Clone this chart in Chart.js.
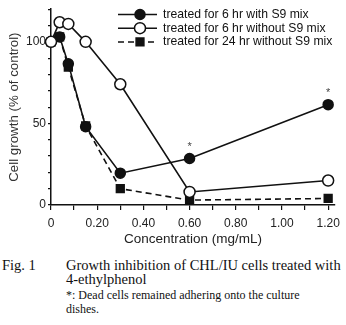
<!DOCTYPE html>
<html>
<head>
<meta charset="utf-8">
<script src="https://cdn.jsdelivr.net/npm/chart.js@4/dist/chart.umd.min.js"></script>
<style>
  html, body { margin: 0; padding: 0; background: #fff; }
  #wrap { position: relative; width: 346px; height: 325px; overflow: hidden; }
  #plot { position: absolute; left: 0; top: 0; }
  .cap { position: absolute; font-family: "Liberation Serif", "DejaVu Serif", serif; color: #111; white-space: nowrap; }
  .c1 { font-size: 14.5px; }
  .c2 { font-size: 12px; }
</style>
</head>
<body>
<div id="wrap">
  <canvas id="plot" width="346" height="252"></canvas>
  <div class="cap c1" style="left:2px; top:257px;">Fig. 1</div>
  <div class="cap c1" style="left:66px; top:257px;">Growth inhibition of CHL/IU cells treated with</div>
  <div class="cap c1" style="left:66px; top:271px;">4-ethylphenol</div>
  <div class="cap c2" style="left:66px; top:288px;">*: Dead cells remained adhering onto the culture</div>
  <div class="cap c2" style="left:66px; top:302px;">dishes.</div>
</div>
<script>
// concentrations (mg/mL) and cell growth (% of control)
var conc      = [0, 0.0375, 0.075, 0.15, 0.3, 0.6, 1.2];
var withS9    = [100, 103, 86.5, 48, 19.5, 28.5, 61.5];
var withoutS9 = [100, 112, 111, 100, 74, 8, 15];
var long24    = [100, 103, 84.5, 48.5, 10, 3, 4];

var seriesLabels = [
  'treated for 6 hr with S9 mix',
  'treated for 6 hr without S9 mix',
  'treated for 24 hr without S9 mix'
];
var starIdx = [5, 6];        // points marked with * (with S9 series)
var xLabelAt = [0, 0.2, 0.4, 0.6, 0.8, 1.0, 1.2];
var yLabelAt = [0, 50, 100];

var SANS = '"Liberation Sans", Arial, sans-serif';
var INK = '#111';

function pts(ys) {
  return ys.map(function (y, i) { return { x: conc[i], y: y }; });
}

// legend drawn as line + marker samples, top right of the plot
var sampleLegend = {
  id: 'sampleLegend',
  afterDatasetsDraw: function (chart) {
    var ctx = chart.ctx;
    ctx.save();
    chart.data.datasets.forEach(function (ds, i) {
      var y = 14.5 + i * 13.7;
      ctx.strokeStyle = INK;
      ctx.lineWidth = 1.5;
      ctx.setLineDash(ds.borderDash || []);
      ctx.beginPath();
      ctx.moveTo(118, y);
      ctx.lineTo(157, y);
      ctx.stroke();
      ctx.setLineDash([]);
      ctx.fillStyle = ds.pointBackgroundColor;
      ctx.strokeStyle = INK;
      ctx.lineWidth = ds.pointBorderWidth;
      Chart.helpers.drawPoint(ctx, {
        pointStyle: ds.pointStyle, radius: ds.pointRadius,
        borderWidth: ds.pointBorderWidth, rotation: 0
      }, 140, y);
      ctx.fillStyle = INK;
      ctx.font = '12.2px ' + SANS;
      ctx.textBaseline = 'middle';
      ctx.textAlign = 'left';
      ctx.fillText(ds.label, 163, y);
    });
    ctx.restore();
  }
};

// asterisks above flagged points
var stars = {
  id: 'stars',
  afterDatasetsDraw: function (chart) {
    var meta = chart.getDatasetMeta(0);
    var ctx = chart.ctx;
    ctx.save();
    ctx.fillStyle = '#444';
    ctx.font = '11px ' + SANS;
    ctx.textAlign = 'center';
    ctx.textBaseline = 'middle';
    starIdx.forEach(function (i) {
      var p = meta.data[i];
      ctx.fillText('*', p.x, p.y - 12);
    });
    ctx.restore();
  }
};

var common = {
  borderColor: INK, borderWidth: 1.6, pointBorderColor: INK,
  pointBorderWidth: 1.5, tension: 0, clip: false
};

new Chart(document.getElementById('plot'), {
  type: 'line',
  data: {
    datasets: [
      Object.assign({}, common, { label: seriesLabels[0], data: pts(withS9),
        pointStyle: 'circle', pointRadius: 5, pointBackgroundColor: INK, order: 1 }),
      Object.assign({}, common, { label: seriesLabels[1], data: pts(withoutS9),
        pointStyle: 'circle', pointRadius: 5.5, pointBackgroundColor: '#fff', order: 0 }),
      Object.assign({}, common, { label: seriesLabels[2], data: pts(long24), borderDash: [6, 4],
        pointStyle: 'rect', pointRadius: 5.5, pointBackgroundColor: INK, order: 2 })
    ]
  },
  options: {
    responsive: false, animation: false, events: [],
    layout: { padding: { top: 1, right: 7, left: 0, bottom: 0 } },
    plugins: { legend: { display: false }, tooltip: { enabled: false } },
    scales: {
      x: {
        type: 'linear', min: 0, max: 1.23,
        afterFit: function (s) { s.height = 47; },
        afterBuildTicks: function (s) {
          var t = [];
          for (var k = 0; k <= 12; k++) t.push({ value: k / 10 });
          s.ticks = t;
        },
        border: { color: INK, width: 1.5 },
        grid: { drawOnChartArea: false, drawTicks: true, tickLength: 5, color: INK, lineWidth: 1.2 },
        ticks: {
          color: '#222', font: { family: SANS, size: 12 }, padding: 6, maxRotation: 0, autoSkip: false,
          callback: function (v) {
            var hit = xLabelAt.filter(function (a) { return Math.abs(a - v) < 1e-6; });
            if (!hit.length) return '';
            return v === 0 ? '0' : v.toFixed(2);
          }
        },
        title: { display: true, text: 'Concentration (mg/mL)', color: '#222',
          font: { family: SANS, size: 13.5 }, padding: { top: 4, bottom: 5 } }
      },
      y: {
        min: 0, max: 120,
        afterFit: function (s) { s.width = 51; },
        afterBuildTicks: function (s) {
          var t = [];
          for (var k = 0; k <= 12; k++) t.push({ value: k * 10 });
          s.ticks = t;
        },
        border: { color: INK, width: 1.5 },
        grid: { drawOnChartArea: false, drawTicks: true, tickLength: 3, color: INK, lineWidth: 1.2 },
        ticks: {
          color: '#222', font: { family: SANS, size: 12 }, padding: 2, autoSkip: false,
          callback: function (v) { return yLabelAt.indexOf(v) >= 0 ? String(v) : ''; }
        },
        title: { display: true, text: 'Cell growth (% of control)', color: '#333',
          font: { family: SANS, size: 13.3 }, padding: { top: 6, bottom: 0 } }
      }
    }
  },
  plugins: [sampleLegend, stars]
});
</script>
</body>
</html>
